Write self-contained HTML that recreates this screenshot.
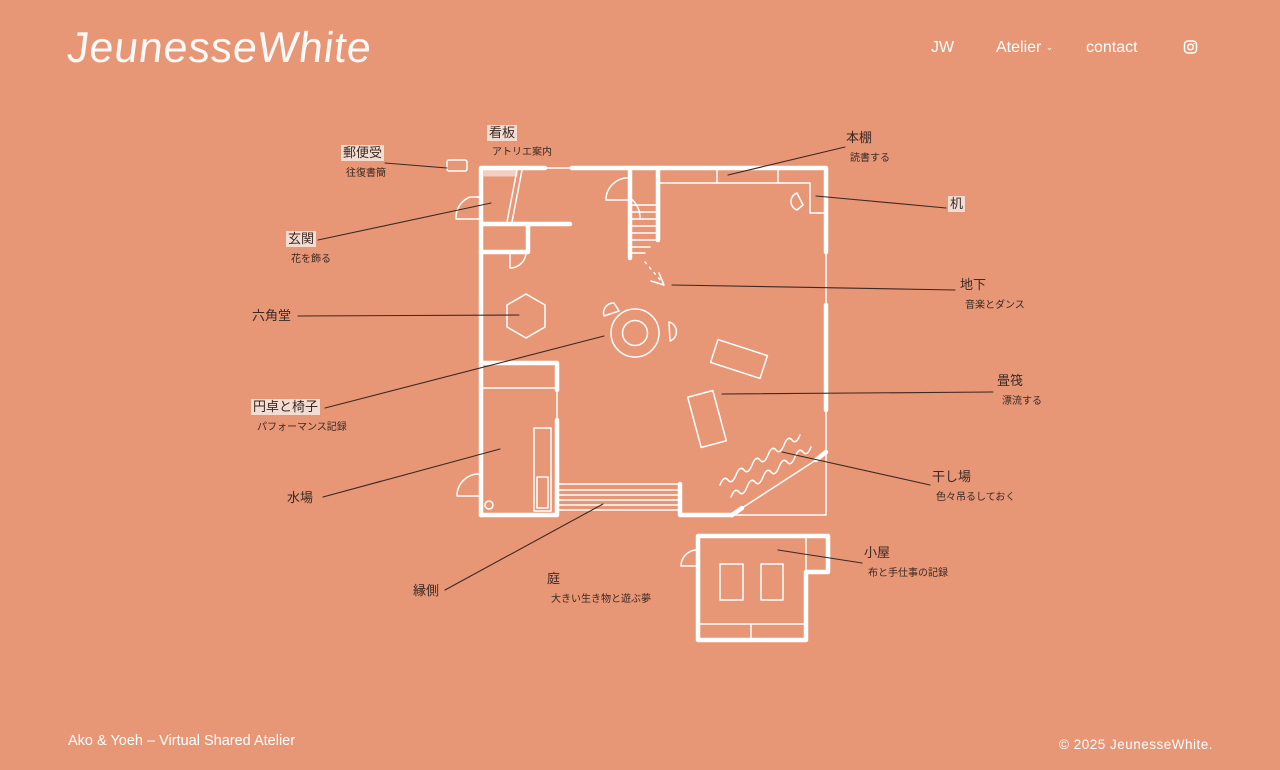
<!DOCTYPE html>
<html><head><meta charset="utf-8">
<style>
html,body{margin:0;padding:0;}
body{width:1280px;height:770px;background:#E79676;position:relative;overflow:hidden;font-family:"Liberation Sans","Noto Sans CJK JP",sans-serif;color:#3a2a24;}
.abs{position:absolute;white-space:nowrap;}
.logo{left:67px;top:24px;font-size:43px;color:#fff;font-weight:300;letter-spacing:0.8px;font-style:italic;transform:skewX(4deg);opacity:0.95;}
.nav{color:#fff;font-size:16px;top:39px;}
.foot{color:#fff;font-size:14.5px;top:733px;}
.l{font-size:13px;line-height:16px;}
.hl{background:#F3DCD2;padding:0 2px;}
.s{font-size:10px;line-height:12px;}
svg{position:absolute;left:0;top:0;}
</style></head><body>
<div class="abs logo">JeunesseWhite</div>
<div class="abs nav" style="left:931px">JW</div>
<div class="abs nav" style="left:996px">Atelier <span style="font-size:9px;vertical-align:2px">&#8964;</span></div>
<div class="abs nav" style="left:1086px">contact</div>
<div class="abs foot" style="left:68px">Ako &amp; Yoeh – Virtual Shared Atelier</div>
<div class="abs foot" style="left:1059px;font-size:13.5px;top:737px;letter-spacing:0.5px">© 2025 JeunesseWhite.</div>

<svg width="1280" height="770" viewBox="0 0 1280 770">
<g fill="none" stroke="#fff" stroke-width="1.5"><rect x="1184.5" y="41" width="12" height="12" rx="3.5"/><circle cx="1190.5" cy="47" r="2.8"/></g>
<circle cx="1194" cy="43.5" r="0.8" fill="#fff"/>
<g stroke="#fff" fill="none" stroke-linecap="round" stroke-linejoin="round">
<g stroke-width="4.5">
<path d="M481,515 L481,168 L545,168"/>
<path d="M572,168 L826,168 L826,252"/>
<path d="M826,305 L826,410"/>
<path d="M481,515 L557,515 L557,420"/>
<path d="M557,390 L557,363 L481,363"/>
<path d="M680,484 L680,515 L732,515"/>
<path d="M482,224 L570,224"/>
<path d="M481,252 L528,252 L528,224"/>
<path d="M630,170 L630,258"/>
<path d="M658,170 L658,240"/>
<path d="M732,515 L742,508"/>
<path d="M816,460 L826,452"/>
<path d="M698,536 L828,536 L828,572 L806,572 L806,640 L698,640 Z"/>
</g>
<g stroke-width="1.5">
<path d="M545,168 L572,168"/>
<path d="M826,252 L826,305"/>
<path d="M826,410 L826,515 L680,515"/>
<path d="M557,390 L557,420"/>
<path d="M481,388 L557,388"/>
<path d="M742,508 L816,460"/>
<path d="M658,183 L810,183 L810,213 L826,213"/>
<path d="M717,168 L717,183 M778,168 L778,183"/>
<path d="M522,170 L512,222 M517,170 L507,222"/>
<path d="M534,428 L551,428 L551,511 L534,511 Z"/>
<path d="M537,477 L548,477 L548,508 L537,508 Z"/>
<path d="M806,536 L806,572"/>
<path d="M698,624 L806,624 M751,624 L751,640"/>
<path d="M481,197 L470,197 A22,22 0 0,0 456,219 L481,219"/>
<path d="M510,252 L510,268 A16,16 0 0,0 526,252"/>
<path d="M630,178 A22,22 0 0,0 606,200 L630,200"/>
<path d="M630,198 A24,24 0 0,1 640,218"/>
<path d="M481,474 A22,22 0 0,0 457,496 L481,496"/>
<path d="M697,550 A16,16 0 0,0 681,566 L697,566"/>
<path d="M631,205 H657 M631,212 H657 M631,219 H657 M631,226 H657 M631,233 H657 M631,240 H656 M631,247 H650 M631,253 H645"/>
<path d="M645,262 L662,282" stroke-dasharray="2,5"/>
<path d="M651,281 L664,285 L659,273"/>
<polygon points="526,294 545,305 545,327 526,338 507,327 507,305"/>
<circle cx="635" cy="333" r="24"/><circle cx="635" cy="333" r="12.5"/>
<path d="M614,303 A10,10 0 0,0 604,316 L619,311 Z"/>
<path d="M669,322 A10,10 0 0,1 670,341 Z"/>
<path d="M797,193 A9,9 0 0,0 797,210 L803,205 Z"/>
<rect x="713" y="347" width="52" height="24" transform="rotate(18 739 359)"/>
<rect x="694" y="393" width="26" height="52" transform="rotate(-15 707 419)"/>
<path d="M557,484 H680 M557,490 H680 M557,495 H680 M557,500 H680 M557,505 H680 M557,510 H680"/>
<path d="M720,485 q4,-10 8,-5 t8,-5 t8,-5 t8,-5 t8,-5 t8,-5 t8,-5 t8,-5 t8,-5 t8,-5"/>
<path d="M731,497 q4,-10 8,-5 t8,-5 t8,-5 t8,-5 t8,-5 t8,-5 t8,-5 t8,-5 t8,-5 t8,-5"/>
<circle cx="489" cy="505" r="4"/>
<rect x="720" y="564" width="23" height="36"/><rect x="761" y="564" width="22" height="36"/>
<rect x="447" y="160" width="20" height="11" rx="2"/>
</g>
<rect x="484" y="170" width="33" height="6" fill="#fff" opacity="0.55"/>
<g stroke="#3a2a24" stroke-width="1.1" fill="none">
<path d="M385,163 L447,168"/>
<path d="M318,240 L491,203"/>
<path d="M298,316 L519,315"/>
<path d="M325,408 L604,336"/>
<path d="M323,497 L500,449"/>
<path d="M445,590 L603,504"/>
<path d="M845,147 L728,175"/>
<path d="M946,208 L816,196"/>
<path d="M955,290 L672,285"/>
<path d="M993,392 L722,394"/>
<path d="M930,485 L782,452"/>
<path d="M862,563 L778,550"/>
</g>
</svg>

<div class="abs l hl" style="left:341px;top:145px">郵便受</div>
<div class="abs s" style="left:346px;top:168px">往復書簡</div>
<div class="abs l hl" style="left:487px;top:125px">看板</div>
<div class="abs s" style="left:492px;top:147px">アトリエ案内</div>
<div class="abs l hl" style="left:286px;top:231px">玄関</div>
<div class="abs s" style="left:291px;top:254px">花を飾る</div>
<div class="abs l" style="left:252px;top:308px">六角堂</div>
<div class="abs l hl" style="left:251px;top:399px">円卓と椅子</div>
<div class="abs s" style="left:257px;top:422px">パフォーマンス記録</div>
<div class="abs l" style="left:287px;top:490px">水場</div>
<div class="abs l" style="left:413px;top:583px">縁側</div>
<div class="abs l" style="left:547px;top:571px">庭</div>
<div class="abs s" style="left:551px;top:594px">大きい生き物と遊ぶ夢</div>
<div class="abs l" style="left:846px;top:130px">本棚</div>
<div class="abs s" style="left:850px;top:153px">読書する</div>
<div class="abs l hl" style="left:948px;top:196px">机</div>
<div class="abs l" style="left:960px;top:277px">地下</div>
<div class="abs s" style="left:965px;top:300px">音楽とダンス</div>
<div class="abs l" style="left:997px;top:373px">畳筏</div>
<div class="abs s" style="left:1002px;top:396px">漂流する</div>
<div class="abs l" style="left:932px;top:469px">干し場</div>
<div class="abs s" style="left:936px;top:492px">色々吊るしておく</div>
<div class="abs l" style="left:864px;top:545px">小屋</div>
<div class="abs s" style="left:868px;top:568px">布と手仕事の記録</div>
</body></html>
